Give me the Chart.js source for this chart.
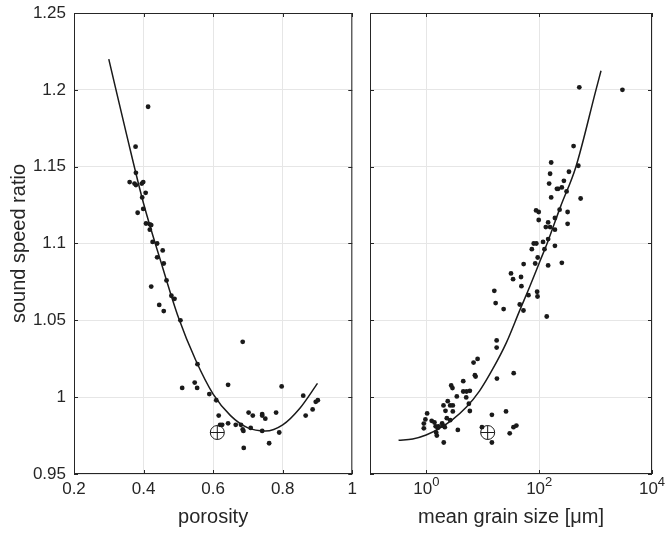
<!DOCTYPE html>
<html>
<head>
<meta charset="utf-8">
<script src="https://cdn.jsdelivr.net/npm/chart.js@4.4.1/dist/chart.umd.min.js"></script>
<style>
  html, body { margin: 0; padding: 0; background: #fff; }
  #wrap { position: relative; width: 666px; height: 534px; }
  #porosityChart { position: absolute; left: 0; top: 0; }
  #grainChart { position: absolute; left: 362px; top: 0; }
</style>
</head>
<body>
<div id="wrap">
  <canvas id="porosityChart" width="362" height="534"></canvas>
  <canvas id="grainChart" width="304" height="534"></canvas>
</div>
<script>
// 左: porosity
const poroX = [0.413, 0.377, 0.378, 0.360, 0.374, 0.378, 0.395, 0.399, 0.406, 0.396, 0.399, 0.383,
  0.407, 0.418, 0.422, 0.418, 0.426, 0.439, 0.455, 0.439, 0.458, 0.466, 0.422, 0.480, 0.489, 0.445,
  0.458, 0.506, 0.555, 0.547, 0.554, 0.511, 0.643, 0.589, 0.609, 0.616, 0.620, 0.626, 0.643, 0.665,
  0.680, 0.685, 0.687, 0.685, 0.688, 0.702, 0.714, 0.708, 0.741, 0.741, 0.750, 0.741, 0.761, 0.781,
  0.790, 0.797, 0.859, 0.866, 0.886, 0.895, 0.901];
const poroY = [1.189, 1.163, 1.146, 1.140, 1.139, 1.138, 1.139, 1.140, 1.133, 1.130, 1.1225, 1.120,
  1.113, 1.1125, 1.112, 1.109, 1.101, 1.100, 1.0955, 1.091, 1.087, 1.076, 1.072, 1.066, 1.064, 1.060,
  1.056, 1.050, 1.0215, 1.0095, 1.006, 1.006, 1.008, 1.002, 0.998, 0.988, 0.982, 0.982, 0.983, 0.982,
  0.982, 0.979, 0.978, 1.036, 0.967, 0.990, 0.988, 0.980, 0.989, 0.988, 0.986, 0.978, 0.970, 0.990,
  0.977, 1.007, 1.001, 0.988, 0.992, 0.997, 0.998];
const poroFitX = [0.30, 0.35, 0.40, 0.45, 0.50, 0.55, 0.60, 0.65, 0.70, 0.75, 0.80, 0.85, 0.90];
const poroFitY = [1.220, 1.172, 1.126, 1.088, 1.052, 1.024, 1.002, 0.988, 0.980, 0.978, 0.982, 0.993, 1.009];
const poroRef = [0.612, 0.977];
const poroTicks = [0.2, 0.4, 0.6, 0.8, 1];

// 右: mean grain size
const grainX = [514, 2990, 407, 163, 494, 156, 337, 150, 274, 206, 217, 252, 306, 163, 543, 230, 88, 98,
  319, 98, 144, 190, 131, 156, 190, 319, 144, 117, 80, 89, 190, 74, 124, 94, 53, 85, 144, 252,
  31.6, 34.4, 47.6, 48.4, 64.5, 91.8, 93.3, 45.2, 52.6, 16.0, 16.9, 23.4, 136, 17.6, 17.6, 8.08, 6.86,
  7.24, 7.45, 4.50, 2.75, 2.90, 17.8, 35.3, 4.50, 5.15, 5.89, 3.46, 5.08, 5.66, 5.89, 2.39, 2.01,
  2.64, 2.94, 2.18, 2.94, 2.30, 2.64, 1.90, 1.95, 2.12, 3.61, 2.03, 1.03, 0.96, 0.90, 0.90, 1.24,
  1.39, 1.46, 1.59, 1.64, 1.49, 1.53, 14.5, 25.8, 9.66, 14.5, 30.0, 35.0, 39.4];
const grainY = [1.2016, 1.200, 1.1634, 1.1527, 1.1506, 1.1454, 1.1467, 1.139, 1.1408, 1.1356, 1.1356,
  1.1365, 1.1339, 1.130, 1.1293, 1.122, 1.1215, 1.1205, 1.1205, 1.1153, 1.1137, 1.1166, 1.1107,
  1.1107, 1.109, 1.1128, 1.1029, 1.101, 1.100, 1.100, 1.0985, 1.0963, 1.0963, 1.0909, 1.0866, 1.087,
  1.0857, 1.0874,
  1.0805, 1.0768, 1.0782, 1.0722, 1.0664, 1.0686, 1.0655, 1.0603, 1.0564, 1.0692, 1.0612, 1.0573,
  1.0525, 1.0369, 1.0323, 1.0249, 1.0225, 1.0143, 1.0134, 1.0104, 1.0076, 1.0059, 1.0121, 1.0156,
  1.0037, 1.0037, 1.0041, 1.0005, 0.9998, 0.9957, 0.991, 0.9974, 0.9946, 0.9946, 0.9946, 0.9911,
  0.9907, 0.9863, 0.985, 0.983, 0.9815, 0.9805, 0.9787, 0.9705, 0.9894, 0.9855, 0.9828, 0.9797,
  0.9846, 0.9835, 0.981, 0.980, 0.981, 0.977, 0.975, 0.9885, 0.9907, 0.9805, 0.9705, 0.9765,
  0.9805, 0.9815];
const grainFitX = [0.321, 0.571, 0.989, 1.70, 2.94, 5.08, 8.77, 15.1, 26.2, 45.2, 68.1, 102.6, 138, 239, 448, 1016, 1247];
const grainFitY = [0.972, 0.9728, 0.9754, 0.9797, 0.9856, 0.9934, 1.0041, 1.0185, 1.0355, 1.0565, 1.072, 1.0883, 1.100, 1.124, 1.150, 1.200, 1.2124];
const grainRef = [12.2, 0.977];
const grainTicks = [1, 100, 10000];

const yTicks = [0.95, 1, 1.05, 1.1, 1.15, 1.2, 1.25];

const FONT = '"Liberation Sans", Arial, Helvetica, sans-serif';
const TEXT = "#262626";
const GRID = "#e6e6e6";
const INK = "#1a1a1a";

function pts(xs, ys) {
  return xs.map((x, i) => ({ x: x, y: ys[i] }));
}

// 軸の枠と内向きの目盛り
const framePlugin = {
  id: "frame",
  afterDraw(chart) {
    const { ctx, chartArea: a } = chart;
    const sx = chart.scales.x, sy = chart.scales.y;
    ctx.save();
    ctx.strokeStyle = TEXT;
    ctx.lineWidth = 1;
    ctx.strokeRect(a.left + 0.5, a.top + 0.5, a.right - a.left - 1, a.bottom - a.top - 1);
    ctx.beginPath();
    sx.ticks.forEach((t) => {
      const px = Math.round(sx.getPixelForValue(t.value)) + 0.5;
      ctx.moveTo(px, a.bottom); ctx.lineTo(px, a.bottom - 4);
      ctx.moveTo(px, a.top); ctx.lineTo(px, a.top + 4);
    });
    sy.ticks.forEach((t) => {
      const py = Math.round(sy.getPixelForValue(t.value)) + 0.5;
      ctx.moveTo(a.left, py); ctx.lineTo(a.left + 4, py);
      ctx.moveTo(a.right, py); ctx.lineTo(a.right - 4, py);
    });
    ctx.stroke();
    ctx.restore();
  },
};

// 10^n 形式の目盛りラベル
const powerLabelPlugin = {
  id: "powerLabels",
  afterDraw(chart) {
    const { ctx } = chart;
    const sx = chart.scales.x;
    ctx.save();
    ctx.fillStyle = TEXT;
    ctx.textAlign = "left";
    ctx.textBaseline = "alphabetic";
    grainTicks.forEach((v) => {
      const e = String(Math.round(Math.log10(v)));
      ctx.font = "17px " + FONT;
      const wb = ctx.measureText("10").width;
      ctx.font = "13px " + FONT;
      const we = ctx.measureText(e).width;
      const left = sx.getPixelForValue(v) - (wb + we) / 2;
      ctx.font = "17px " + FONT;
      ctx.fillText("10", left, 494);
      ctx.font = "13px " + FONT;
      ctx.fillText(e, left + wb, 486);
    });
    ctx.restore();
  },
};

function datasets(xs, ys, fx, fy, ref) {
  return [
    {
      data: pts(xs, ys),
      pointRadius: 2.4,
      pointBackgroundColor: INK,
      pointBorderWidth: 0,
    },
    {
      data: pts(fx, fy),
      showLine: true,
      pointRadius: 0,
      borderColor: INK,
      borderWidth: 1.5,
      cubicInterpolationMode: "monotone",
    },
    {
      data: [{ x: ref[0], y: ref[1] }],
      pointStyle: "circle",
      pointRadius: 7,
      pointBackgroundColor: "rgba(0,0,0,0)",
      pointBorderColor: INK,
      pointBorderWidth: 1,
    },
    {
      data: [{ x: ref[0], y: ref[1] }],
      pointStyle: "cross",
      pointRadius: 7,
      pointBorderColor: INK,
      pointBorderWidth: 1,
    },
  ];
}

const yScale = (showLabels) => ({
  min: 0.95,
  max: 1.25,
  afterBuildTicks: (s) => { s.ticks = yTicks.map((v) => ({ value: v })); },
  afterFit: (s) => {
    s.width = showLabels ? 74 : 8;
    s.paddingTop = 0; // ラベルによる上下の余白を無効化
    s.paddingBottom = 0;
  },
  grid: { color: GRID, drawTicks: false },
  border: { display: false },
  ticks: {
    display: showLabels,
    padding: 8,
    color: TEXT,
    font: { size: 17, family: FONT },
    callback: (v) => String(Number(v.toFixed(2))),
  },
  title: {
    display: showLabels,
    text: "sound speed ratio",
    color: TEXT,
    font: { size: 20, family: FONT },
    padding: { top: 7, bottom: 0 },
  },
});

const porosityChartConfig = {
  type: "scatter",
  data: { datasets: datasets(poroX, poroY, poroFitX, poroFitY, poroRef) },
  options: {
    responsive: false,
    animation: false,
    devicePixelRatio: 1,
    layout: { padding: { left: 0, right: 6, top: 13, bottom: 0 } },
    plugins: { legend: { display: false }, tooltip: { enabled: false } },
    scales: {
      x: {
        type: "linear",
        min: 0.2,
        max: 1,
        afterBuildTicks: (s) => { s.ticks = poroTicks.map((v) => ({ value: v })); },
        afterFit: (s) => { s.height = 60; },
        grid: { color: GRID, drawTicks: false },
        border: { display: false },
        ticks: {
          padding: 5,
          color: TEXT,
          font: { size: 17, family: FONT },
          maxRotation: 0,
          callback: (v) => String(Number(v.toFixed(2))),
        },
        title: {
          display: true,
          text: "porosity",
          color: TEXT,
          font: { size: 20, family: FONT },
          padding: { top: 0, bottom: 5 },
        },
      },
      y: yScale(true),
    },
  },
  plugins: [framePlugin],
};

const grainChartConfig = {
  type: "scatter",
  data: { datasets: datasets(grainX, grainY, grainFitX, grainFitY, grainRef) },
  options: {
    responsive: false,
    animation: false,
    devicePixelRatio: 1,
    layout: { padding: { left: 0, right: 14, top: 13, bottom: 0 } },
    plugins: { legend: { display: false }, tooltip: { enabled: false } },
    scales: {
      x: {
        type: "logarithmic",
        min: 0.1,
        max: 10000,
        afterBuildTicks: (s) => { s.ticks = grainTicks.map((v) => ({ value: v })); },
        afterFit: (s) => { s.height = 60; },
        grid: { color: GRID, drawTicks: false },
        border: { display: false },
        ticks: { display: false },
        title: {
          display: true,
          text: "mean grain size [μm]",
          color: TEXT,
          font: { size: 20, family: FONT },
          padding: { top: 0, bottom: 5 },
        },
      },
      y: yScale(false),
    },
  },
  plugins: [framePlugin, powerLabelPlugin],
};

const porosityChart = new Chart("porosityChart", porosityChartConfig);
const grainChart = new Chart("grainChart", grainChartConfig);
</script>
</body>
</html>
